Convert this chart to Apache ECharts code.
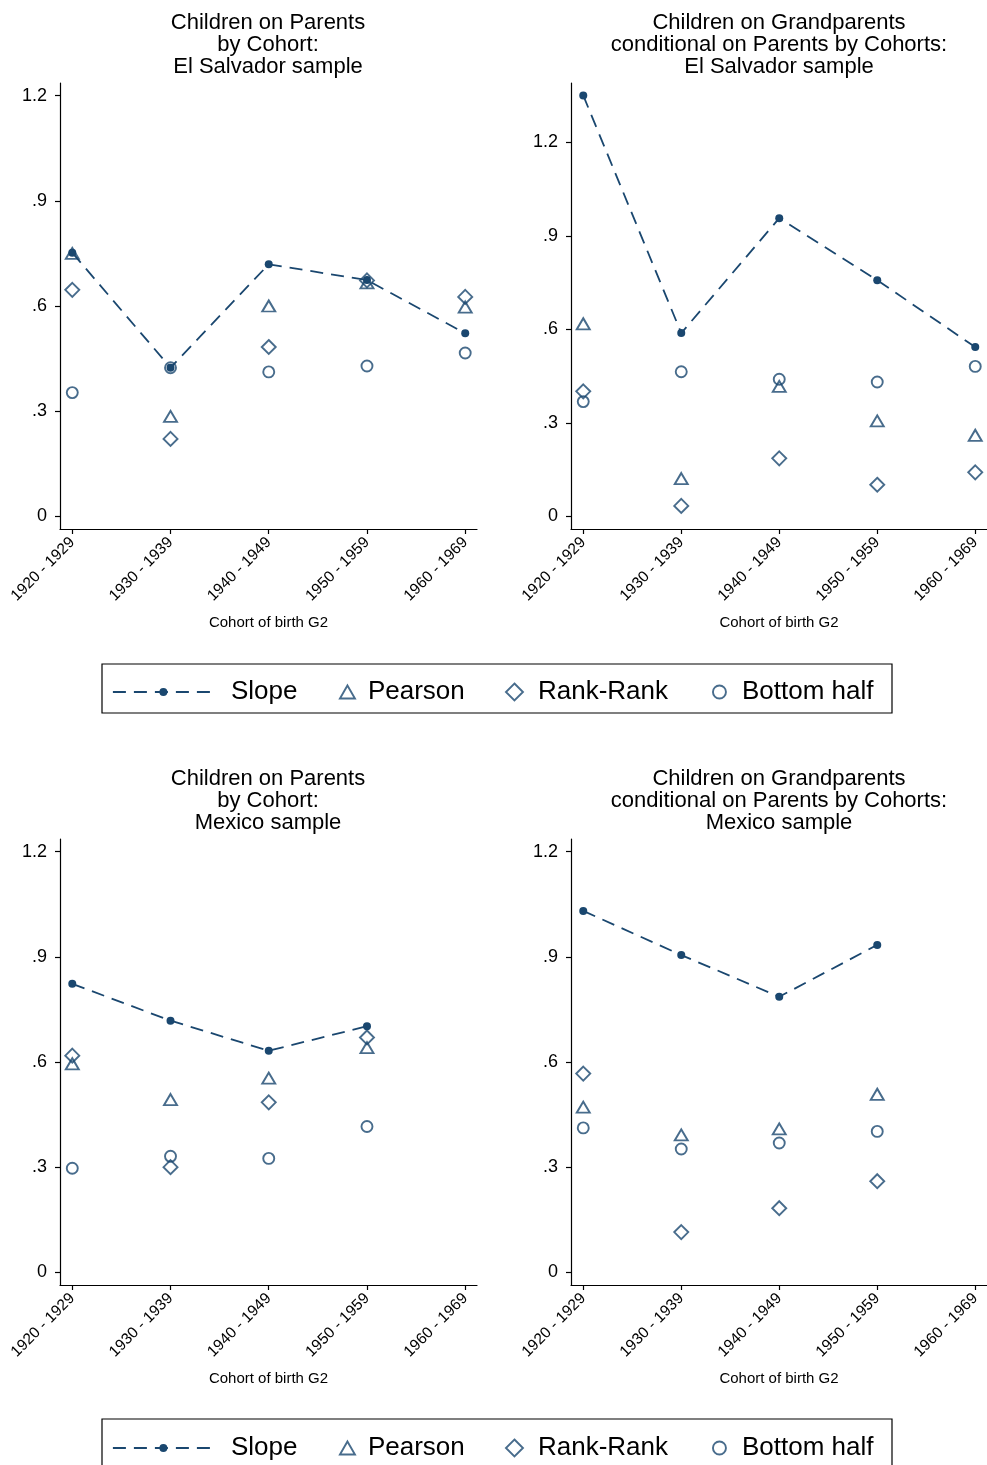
<!DOCTYPE html>
<html><head><meta charset="utf-8">
<script src="https://cdn.jsdelivr.net/npm/echarts@6/dist/echarts.min.js"></script>
<style>html,body{margin:0;padding:0;background:#fff}#c{width:987px;height:1465px}</style>
</head><body><div id="c"></div>
<script>
// ---------- data ----------
const cohorts = ['1920 - 1929', '1930 - 1939', '1940 - 1949', '1950 - 1959', '1960 - 1969'];
const cohortPositions = [0, 1, 2, 3, 4];
const yTickValues = [0, 0.3, 0.6, 0.9, 1.2];
const yTickLabels = ['0', '.3', '.6', '.9', '1.2'];
const seriesNames = ['Slope', 'Pearson', 'Rank-Rank', 'Bottom half'];
const xAxisTitle = 'Cohort of birth G2';

// El Salvador: children on parents
const svParSlope   = [0.752, 0.424, 0.719, 0.674, 0.522];
const svParPearson = [0.750, 0.285, 0.600, 0.666, 0.597];
const svParRank    = [0.646, 0.221, 0.483, 0.673, 0.626];
const svParBottom  = [0.353, 0.424, 0.412, 0.429, 0.466];
// El Salvador: children on grandparents conditional on parents
const svGpSlope   = [1.351, 0.588, 0.957, 0.758, 0.543];
const svGpPearson = [0.618, 0.121, 0.417, 0.306, 0.260];
const svGpRank    = [0.401, 0.033, 0.186, 0.101, 0.141];
const svGpBottom  = [0.368, 0.464, 0.440, 0.431, 0.481];
// Mexico: children on parents
const mxParSlope   = [0.823, 0.718, 0.632, 0.702];
const mxParPearson = [0.595, 0.493, 0.554, 0.641];
const mxParRank    = [0.618, 0.300, 0.485, 0.670];
const mxParBottom  = [0.297, 0.331, 0.325, 0.416];
// Mexico: children on grandparents conditional on parents
const mxGpSlope   = [1.031, 0.905, 0.786, 0.934];
const mxGpPearson = [0.471, 0.392, 0.409, 0.508];
const mxGpRank    = [0.567, 0.115, 0.183, 0.260];
const mxGpBottom  = [0.412, 0.352, 0.369, 0.402];

const titles = [
  'Children on Parents\nby Cohort:\nEl Salvador sample',
  'Children on Grandparents\nconditional on Parents by Cohorts:\nEl Salvador sample',
  'Children on Parents\nby Cohort:\nMexico sample',
  'Children on Grandparents\nconditional on Parents by Cohorts:\nMexico sample'
];

// ---------- layout / style ----------
const NAVY = '#1a476f';
const FONT = '"Liberation Sans", Arial, Helvetica, sans-serif';
const panels = [
  { title: titles[0], values: [svParSlope, svParPearson, svParRank, svParBottom],
    grid: { left: 60, top: 83, width: 417, height: 446 }, yMin: -0.036, yMax: 1.236, cx: 268, ty: 12 },
  { title: titles[1], values: [svGpSlope, svGpPearson, svGpRank, svGpBottom],
    grid: { left: 571, top: 83, width: 416, height: 446 }, yMin: -0.041, yMax: 1.391, cx: 779, ty: 12 },
  { title: titles[2], values: [mxParSlope, mxParPearson, mxParRank, mxParBottom],
    grid: { left: 60, top: 839, width: 417, height: 446 }, yMin: -0.036, yMax: 1.236, cx: 268, ty: 768 },
  { title: titles[3], values: [mxGpSlope, mxGpPearson, mxGpRank, mxGpBottom],
    grid: { left: 571, top: 839, width: 416, height: 446 }, yMin: -0.036, yMax: 1.236, cx: 779, ty: 768 }
];

const markerStyles = [
  { type: 'line', symbol: 'circle', symbolSize: 8, itemStyle: { color: NAVY } },
  { type: 'scatter', symbol: 'triangle', symbolSize: [13, 11], itemStyle: { color: 'rgba(0,0,0,0)', borderColor: NAVY, borderWidth: 1.9 } },
  { type: 'scatter', symbol: 'diamond', symbolSize: [14, 14], itemStyle: { color: 'rgba(0,0,0,0)', borderColor: NAVY, borderWidth: 1.9 } },
  { type: 'scatter', symbol: 'circle', symbolSize: 11, itemStyle: { color: 'rgba(0,0,0,0)', borderColor: NAVY, borderWidth: 1.9 } }
];

const grids = [], xAxes = [], yAxes = [], series = [], titleComps = [];
panels.forEach((p, i) => {
  grids.push(Object.assign({}, p.grid));
  titleComps.push({
    text: p.title, left: p.cx, top: p.ty, textAlign: 'center', padding: 0,
    textStyle: { fontFamily: FONT, fontSize: 22, lineHeight: 22, fontWeight: 'normal', color: '#000' }
  });
  xAxes.push({
    gridIndex: i, type: 'value', min: -0.125, max: 4.12,
    name: xAxisTitle, nameLocation: 'middle', nameGap: 86,
    nameTextStyle: { fontFamily: FONT, fontSize: 15, color: '#000' },
    axisLine: { show: true, onZero: false, lineStyle: { color: '#000', width: 1.2 } },
    axisTick: { show: true, customValues: cohortPositions, length: 5, lineStyle: { color: '#000', width: 1.2 } },
    axisLabel: { customValues: cohortPositions, rotate: 45, margin: 11, fontFamily: FONT, fontSize: 15.5, color: '#000',
      formatter: v => cohorts[Math.round(v)] },
    splitLine: { show: false }
  });
  yAxes.push({
    gridIndex: i, type: 'value', min: p.yMin, max: p.yMax,
    axisLine: { show: true, onZero: false, lineStyle: { color: '#000', width: 1.2 } },
    axisTick: { show: true, customValues: yTickValues, length: 5, lineStyle: { color: '#000', width: 1.2 } },
    axisLabel: { customValues: yTickValues, margin: 13, fontFamily: FONT, fontSize: 18, color: '#000',
      formatter: v => yTickLabels[yTickValues.findIndex(t => Math.abs(t - v) < 1e-9)] },
    splitLine: { show: false }
  });
  p.values.forEach((arr, k) => {
    const m = markerStyles[k];
    const s = {
      name: seriesNames[k], type: m.type, xAxisIndex: i, yAxisIndex: i,
      symbol: m.symbol, symbolSize: m.symbolSize, itemStyle: m.itemStyle,
      data: arr.map((v, j) => [cohortPositions[j], v]),
      z: 2 + k
    };
    if (m.type === 'line') {
      s.showSymbol = true;
      s.lineStyle = { color: NAVY, width: 1.8, type: [13, 8] };
    }
    series.push(s);
  });
});

// legends: one per item, in two rows
const legendItems = [
  { name: 'Slope', left: 112, itemWidth: 101, itemHeight: 10, pad: 12 },
  { name: 'Pearson', left: 339, itemWidth: 15, itemHeight: 13, pad: 8 },
  { name: 'Rank-Rank', left: 505, itemWidth: 17, itemHeight: 17, pad: 10 },
  { name: 'Bottom half', left: 712, itemWidth: 13, itemHeight: 13, pad: 11 }
];
const legendRows = [{ box: 664, mid: 692 }, { box: 1419, mid: 1448 }];
const legends = [];
const graphics = [];
legendRows.forEach(r => {
  graphics.push({ type: 'rect', shape: { x: 102, y: r.box, width: 790, height: 49 },
    style: { fill: 'none', stroke: '#000', lineWidth: 1.2 }, silent: true });
  legendItems.forEach(it => {
    legends.push({
      data: [it.name], left: it.left, top: r.mid - 13, padding: 0, orient: 'horizontal',
      itemWidth: it.itemWidth, itemHeight: it.itemHeight,
      itemStyle: it.name === 'Slope' ? {} : { borderWidth: 1.9 },
      lineStyle: { width: 1.8 },
      textStyle: { fontFamily: FONT, fontSize: 26, lineHeight: 26, color: '#000', padding: [0, 0, 0, it.pad] }
    });
  });
});

const chart = echarts.init(document.getElementById('c'), null, { renderer: 'canvas' });
chart.setOption({
  backgroundColor: '#fff',
  animation: false,
  title: titleComps,
  grid: grids,
  xAxis: xAxes,
  yAxis: yAxes,
  legend: legends,
  graphic: graphics,
  series: series
});
</script>
</body></html>
